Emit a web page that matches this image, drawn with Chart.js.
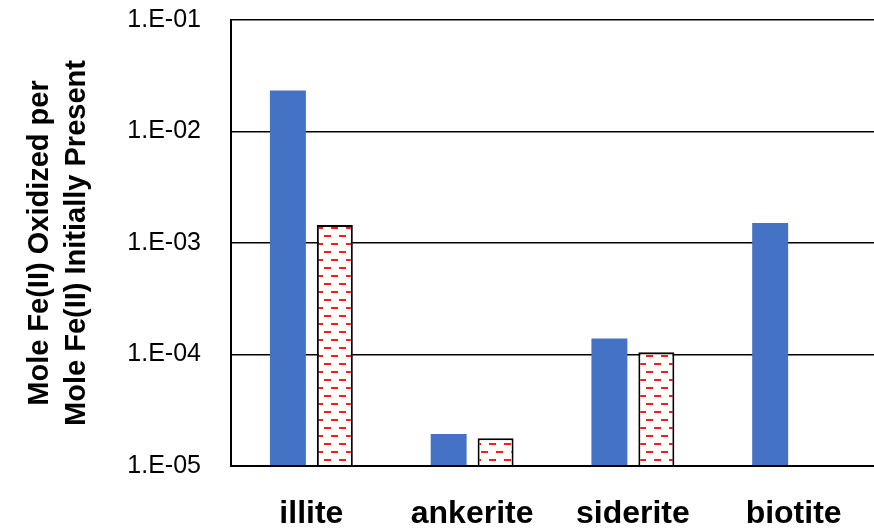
<!DOCTYPE html>
<html>
<head>
<meta charset="utf-8">
<script src="https://cdn.jsdelivr.net/npm/chart.js@4.4.1/dist/chart.umd.min.js"></script>
<style>
  html, body { margin: 0; padding: 0; background: #fff; }
  #wrap { width: 874px; height: 532px; }
</style>
</head>
<body>
<div id="wrap"><canvas id="c" width="874" height="532"></canvas></div>
<script>
// Minerals and oxidized Fe(II) fractions
const minerals = ['illite', 'ankerite', 'siderite', 'biotite'];
const seriesA = [0.0233, 1.94e-5, 1.39e-4, 1.51e-3];
const seriesB = [1.45e-3, 1.77e-5, 1.05e-4, null];
const yTicks = [1e-5, 1e-4, 1e-3, 1e-2, 1e-1];
const yTickLabels = ['1.E-05', '1.E-04', '1.E-03', '1.E-02', '1.E-01'];

// Red dashed hatch on white
function dashPattern() {
  const p = document.createElement('canvas');
  p.width = 15; p.height = 16;
  const g = p.getContext('2d');
  g.fillStyle = '#ffffff';
  g.fillRect(0, 0, 15, 16);
  g.fillStyle = '#ff1a1a';
  g.fillRect(1, 3, 7, 2);
  g.fillRect(9, 11, 7, 2);
  g.fillRect(-6, 11, 7, 2);
  return g.createPattern(p, 'repeat');
}

const ctx = document.getElementById('c').getContext('2d');
new Chart(ctx, {
  type: 'bar',
  data: {
    labels: minerals,
    datasets: [
      {
        data: seriesA,
        backgroundColor: '#4472c4',
        borderWidth: 0,
        categoryPercentage: 0.584,
        barPercentage: 0.766
      },
      {
        data: seriesB,
        backgroundColor: dashPattern(),
        borderColor: '#000000',
        borderWidth: 2,
        borderSkipped: 'bottom',
        categoryPercentage: 0.584,
        barPercentage: 0.766
      }
    ]
  },
  options: {
    responsive: false,
    animation: false,
    layout: { padding: { top: 20, right: -3, left: 0, bottom: 0 } },
    plugins: { legend: { display: false }, tooltip: { enabled: false } },
    scales: {
      x: {
        grid: { display: false, drawTicks: false },
        border: { display: false },
        ticks: {
          color: '#000',
          padding: 29,
          font: { family: 'Liberation Sans', size: 32, weight: 'bold' }
        },
        afterFit: s => { s.height = 66; s.paddingLeft = 0; s.paddingRight = 0; }
      },
      y: {
        type: 'logarithmic',
        min: 1e-5,
        max: 1e-1,
        afterBuildTicks: s => { s.ticks = yTicks.map(v => ({ value: v })); },
        grid: { color: '#000', lineWidth: 1.5, drawTicks: false },
        border: { display: true, color: '#000', width: 2 },
        ticks: {
          color: '#000',
          padding: 30,
          font: { family: 'Liberation Sans', size: 25 },
          callback: v => {
            const i = yTicks.findIndex(t => Math.abs(Math.log10(t) - Math.log10(v)) < 1e-6);
            return i >= 0 ? yTickLabels[i] : '';
          }
        },
        title: {
          display: true,
          text: ['Mole Fe(II) Oxidized per', 'Mole Fe(II) Initially Present'],
          color: '#000',
          font: { family: 'Liberation Sans', size: 29, weight: 'bold', lineHeight: 1.27 },
          padding: { top: 22, bottom: 10 }
        },
        afterFit: s => { s.width = 231; s.paddingTop = 0; s.paddingBottom = 0; }
      }
    }
  },
  plugins: [{
    id: 'bottomLine',
    afterDraw(chart) {
      const a = chart.chartArea, c = chart.ctx;
      c.save();
      c.strokeStyle = '#000';
      c.lineWidth = 2;
      c.beginPath();
      c.moveTo(a.left - 1, a.bottom);
      c.lineTo(a.right, a.bottom);
      c.stroke();
      c.restore();
    }
  }]
});
</script>
</body>
</html>
